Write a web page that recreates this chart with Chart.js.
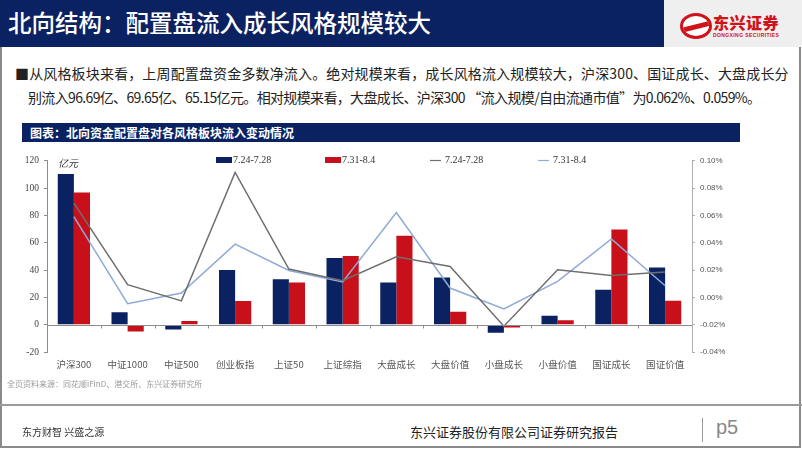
<!DOCTYPE html>
<html>
<head>
<meta charset="utf-8">
<script src="https://cdn.jsdelivr.net/npm/chart.js@4.4.1/dist/chart.umd.min.js"></script>
<style>
  body { margin: 0; width: 802px; height: 451px; overflow: hidden; background: #fff; font-family: "Noto Sans CJK SC", sans-serif; }
  #page { position: relative; width: 802px; height: 451px; }
  #frame { position: absolute; left: 0; top: 47px; width: 797px; height: 399px; border: 2px solid #8a8a8a; border-top: none; }
  #head { position: absolute; left: 0; top: 0; width: 664px; height: 47px; background: #0b2262; }
  #head span { position: absolute; left: 8px; top: 6px; color: #fff; font-size: 23.5px; font-weight: 500; line-height: 32px; white-space: nowrap; }
  #logo { position: absolute; left: 664px; top: 0; width: 138px; height: 47px; background: #efefef; }
  #ring { position: absolute; left: 16px; top: 13px; width: 26px; height: 20px; border: 3px solid #d0121b; border-radius: 50%; background: #fff; overflow: hidden; }
  #ring div { position: absolute; left: -2px; top: 8px; width: 32px; height: 5px; background: #d0121b; transform: skewY(-14deg); }
  #lname { position: absolute; left: 49px; top: 12px; color: #d0121b; font-size: 16px; font-weight: 900; line-height: 20px; letter-spacing: 0.5px; }
  #lsub { position: absolute; left: 49px; top: 32px; color: #d0121b; font: bold 5px "Liberation Sans", sans-serif; letter-spacing: 0.4px; }
  .txt { position: absolute; font-size: 14px; color: #222; white-space: nowrap; line-height: 18px; }
  #bar2 { position: absolute; left: 22px; top: 123px; width: 718px; height: 19px; background: #0b2262; }
  #bar2 span { position: absolute; left: 8px; top: 0; color: #fff; font-size: 12px; font-weight: bold; line-height: 19px; }
  #wrap { position: absolute; left: 0; top: 150px; width: 760px; height: 230px; }
  #src { position: absolute; left: 7px; top: 378px; font-size: 8px; color: #9a9a9a; line-height: 12px; }
  #rule { position: absolute; left: 0; top: 404px; width: 802px; height: 2px; background: #9a9a9a; }
  #fl { position: absolute; left: 22px; top: 425px; font-size: 10px; color: #333; line-height: 14px; }
  #fc { position: absolute; left: 410px; top: 423px; font-size: 13px; color: #222; line-height: 18px; }
  #vbar { position: absolute; left: 702px; top: 418px; width: 1px; height: 24px; background: #999; }
  #p5 { position: absolute; left: 716px; top: 415px; font: 20px "Liberation Sans", sans-serif; color: #888; line-height: 24px; }
</style>
</head>
<body>
<div id="page">
  <div id="frame"></div>
  <div id="head"><span>北向结构：配置盘流入成长风格规模较大</span></div>
  <div id="logo">
    <div id="ring"><div></div></div>
    <div id="lname">东兴证券</div>
    <div id="lsub">DONGXING SECURITIES</div>
  </div>
  <div class="txt" style="left:15px; top:64px; letter-spacing:0.15px;">■从风格板块来看，上周配置盘资金多数净流入。绝对规模来看，成长风格流入规模较大，沪深300、国证成长、大盘成长分</div>
  <div class="txt" style="left:28px; top:88px; letter-spacing:-0.65px;">别流入96.69亿、69.65亿、65.15亿元。相对规模来看，大盘成长、沪深300 “流入规模/自由流通市值”为0.062%、0.059%。</div>
  <div id="bar2"><span>图表：北向资金配置盘对各风格板块流入变动情况</span></div>
  <div id="wrap"><canvas id="chart" width="760" height="230"></canvas></div>
  <div id="src">全页资料来源：同花顺iFinD、港交所、东兴证券研究所</div>
  <div id="rule"></div>
  <div id="fl">东方财智 兴盛之源</div>
  <div id="fc">东兴证券股份有限公司证券研究报告</div>
  <div id="vbar"></div>
  <div id="p5">p5</div>
</div>
<script>
const categories = ['沪深300', '中证1000', '中证500', '创业板指', '上证50', '上证综指', '大盘成长', '大盘价值', '小盘成长', '小盘价值', '国证成长', '国证价值']

// 亿元, left axis
const flowWeek1 = [110.3, 9.0, -3.6, 40.0, 33.3, 48.8, 30.9, 34.5, -6.0, 6.6, 25.5, 41.8]
const flowWeek2 = [96.69, -5.0, 2.7, 17.3, 30.9, 50.3, 65.15, 9.5, -2.0, 3.2, 69.65, 17.5]

// 流入规模/自由流通市值 (%), right axis
const ratioWeek1 = [0.069, 0.0093, -0.0026, 0.0914, 0.0207, 0.0122, 0.0297, 0.0226, -0.0211, 0.0202, 0.016, 0.0185]
const ratioWeek2 = [0.059, -0.0046, 0.0032, 0.0389, 0.0197, 0.0112, 0.062, 0.0068, -0.0085, 0.0117, 0.0428, 0.0085]

const seriesNames = ['7.24-7.28', '7.31-8.4', '7.24-7.28', '7.31-8.4']

const navy = '#0b2262'
const red = '#c8101a'
const grayLine = '#6f6f6f'
const blueLine = '#8eaad6'

// zero line with ticks at category boundaries, legend and unit label
const extras = {
  id: 'extras',
  afterDatasetsDraw(chart) {
    const ctx = chart.ctx
    const x = chart.scales.x
    const y = chart.scales.y
    const y0 = Math.round(y.getPixelForValue(0)) + 0.5
    ctx.save()
    ctx.strokeStyle = '#8c8c8c'
    ctx.lineWidth = 1
    ctx.beginPath()
    ctx.moveTo(chart.chartArea.left, y0)
    ctx.lineTo(chart.chartArea.right, y0)
    for (let i = 1; i < categories.length; i++) {
      const bx = Math.round((x.getPixelForValue(i - 1) + x.getPixelForValue(i)) / 2) + 0.5
      ctx.moveTo(bx, y0)
      ctx.lineTo(bx, y0 + 3)
    }
    ctx.stroke()

    ctx.fillStyle = '#333'
    ctx.font = 'italic 10px "Noto Sans CJK SC"'
    ctx.textBaseline = 'middle'
    ctx.fillText('亿元', 58, 13)

    const items = [
      { x: 216, kind: 'box', color: navy },
      { x: 325, kind: 'box', color: red },
      { x: 430, kind: 'line', color: grayLine },
      { x: 538, kind: 'line', color: blueLine }
    ]
    ctx.font = '10px "Liberation Serif"'
    items.forEach((it, i) => {
      if (it.kind === 'box') {
        ctx.fillStyle = it.color
        ctx.fillRect(it.x, 7, 16, 6)
        ctx.fillStyle = '#333'
        ctx.fillText(seriesNames[i], it.x + 17, 10.5)
      } else {
        ctx.strokeStyle = it.color
        ctx.lineWidth = 1.2
        ctx.beginPath()
        ctx.moveTo(it.x, 10.5)
        ctx.lineTo(it.x + 11, 10.5)
        ctx.stroke()
        ctx.fillStyle = '#333'
        ctx.fillText(seriesNames[i], it.x + 15, 10.5)
      }
    })
    ctx.restore()
  }
}

new Chart(document.getElementById('chart'), {
  data: {
    labels: categories,
    datasets: [
      { type: 'line', label: seriesNames[2], data: ratioWeek1, yAxisID: 'y1', borderColor: grayLine, borderWidth: 1.5, pointRadius: 0, tension: 0, order: 0 },
      { type: 'line', label: seriesNames[3], data: ratioWeek2, yAxisID: 'y1', borderColor: blueLine, borderWidth: 1.5, pointRadius: 0, tension: 0, order: 1 },
      { type: 'bar', label: seriesNames[0], data: flowWeek1, yAxisID: 'y', backgroundColor: navy, categoryPercentage: 0.6, barPercentage: 1, order: 2 },
      { type: 'bar', label: seriesNames[1], data: flowWeek2, yAxisID: 'y', backgroundColor: red, categoryPercentage: 0.6, barPercentage: 1, order: 3 }
    ]
  },
  options: {
    responsive: false,
    animation: false,
    layout: { padding: { top: 10, left: 0, right: 0, bottom: 0 } },
    plugins: { legend: { display: false }, tooltip: { enabled: false } },
    scales: {
      x: {
        grid: { display: false },
        border: { display: false },
        ticks: { color: '#555', font: { size: 9.5, family: 'Noto Sans CJK SC' }, padding: -1, maxRotation: 0 },
        afterFit(scale) { scale.height = 28 }
      },
      y: {
        position: 'left',
        min: -20,
        max: 120,
        ticks: { stepSize: 20, color: '#444', font: { size: 9.5, family: 'Liberation Serif' }, padding: 5 },
        grid: { drawOnChartArea: false, drawTicks: true, tickLength: 3, color: '#8c8c8c' },
        border: { display: true, color: '#8c8c8c' },
        afterFit(scale) { scale.width = 47 }
      },
      y1: {
        position: 'right',
        min: -0.04,
        max: 0.10,
        ticks: {
          stepSize: 0.02,
          color: '#555',
          font: { size: 8, family: 'Liberation Sans' },
          padding: 5,
          callback: v => v.toFixed(2) + '%'
        },
        grid: { drawOnChartArea: false, drawTicks: true, tickLength: 3, color: '#b0b0b0' },
        border: { display: true, color: '#b0b0b0' },
        afterFit(scale) { scale.width = 68 }
      }
    }
  },
  plugins: [extras]
})
</script>
</body>
</html>
